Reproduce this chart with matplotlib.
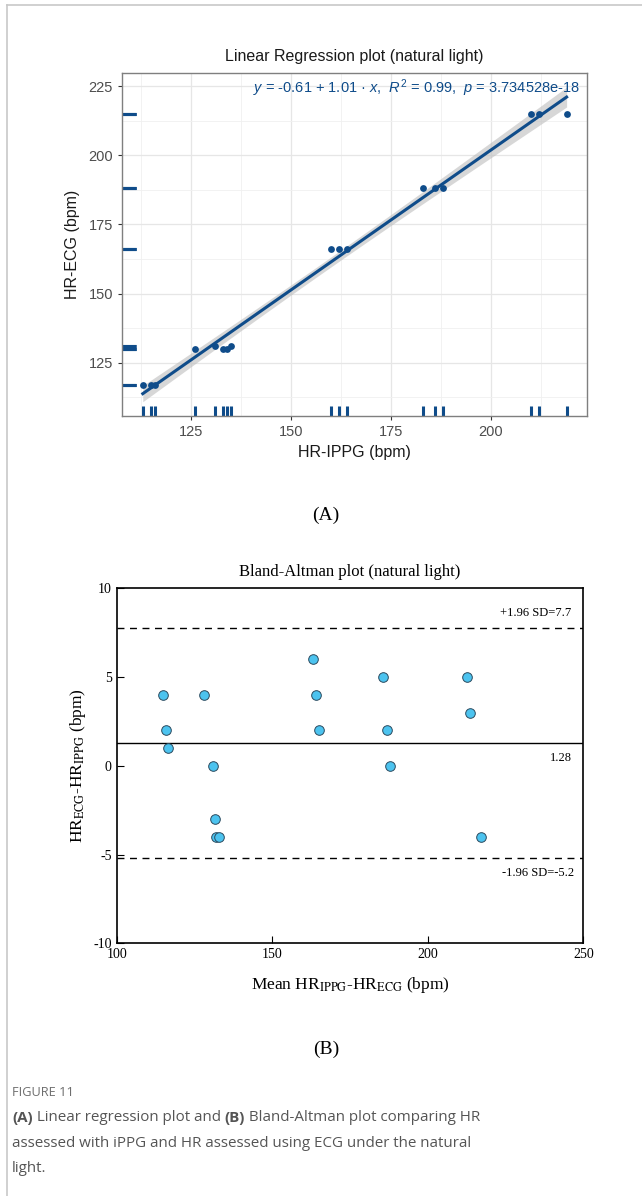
import numpy as np
import matplotlib
matplotlib.use("Agg")
from matplotlib import pyplot as plt

plt.rcParams['mathtext.fontset'] = 'custom'
plt.rcParams['mathtext.rm'] = 'Liberation Sans'
plt.rcParams['mathtext.it'] = 'Liberation Sans:italic'
plt.rcParams['axes.unicode_minus'] = False

# data
hr_ippg = [113, 115, 116, 126, 131, 133, 134, 135, 160, 162, 164, 183, 186, 188, 210, 212, 219]
hr_ecg = [117, 117, 117, 130, 131, 130, 130, 131, 166, 166, 166, 188, 188, 188, 215, 215, 215]
eq_text = r"$y$ = -0.61 + 1.01 · $x$,  $R^2$ = 0.99,  $p$ = 3.734528e-18"

ba_mean = [115, 116, 116.5, 128, 131, 131.5, 132, 133, 163, 164, 165, 185.5, 187, 188, 212.5, 213.5, 217]
ba_diff = [4, 2, 1, 4, 0, -3, -4, -4, 6, 4, 2, 5, 2, 0, 5, 3, -4]
bias = 1.28
loa_upper = 7.75
loa_lower = -5.2
upper_label = "+1.96 SD=7.7"
lower_label = "-1.96 SD=-5.2"
bias_label = "1.28"

blue = '#0f4c8a'

fig = plt.figure(figsize=(6.42, 11.96), dpi=100)

# page frame + captions (pixel coordinates)
bg = fig.add_axes([0, 0, 1, 1])
bg.set_xlim(0, 642)
bg.set_ylim(1196, 0)
bg.axis('off')
bg.plot([7, 642], [5, 5], color='#c8c8c8', lw=1.2)
bg.plot([7, 7], [5, 1196], color='#c8c8c8', lw=1.2)

# ---------- (A) linear regression ----------
ax1 = fig.add_axes([122/642, 1-416/1196, 465/642, 343/1196])
x = np.array(hr_ippg, float)
y = np.array(hr_ecg, float)
b1, b0 = np.polyfit(x, y, 1)
xs = np.linspace(x.min(), x.max(), 100)
fit = b0 + b1*xs
n = len(x)
resid = y - (b0 + b1*x)
s = np.sqrt(np.sum(resid**2)/(n-2))
se = s*np.sqrt(1/n + (xs-x.mean())**2/np.sum((x-x.mean())**2))
t = 2.131
ax1.fill_between(xs, fit-t*se, fit+t*se, color='#bdbdbd', alpha=0.6, lw=0, zorder=2)
ax1.plot(xs, fit, color=blue, lw=2.2, zorder=3)
ax1.scatter(x, y, s=24, color=blue, zorder=4, lw=0)
ax1.vlines(x, 0, 0.03, transform=ax1.get_xaxis_transform(), color=blue, lw=2.2)
ax1.hlines(y, 0, 0.03, transform=ax1.get_yaxis_transform(), color=blue, lw=2.2)

ax1.set_xlim(107.8, 224.1)
ax1.set_ylim(105.8, 229.7)
ax1.set_xticks([125, 150, 175, 200])
ax1.set_yticks([125, 150, 175, 200, 225])
ax1.set_xticks([112.5, 137.5, 162.5, 187.5, 212.5], minor=True)
ax1.set_yticks([112.5, 137.5, 162.5, 187.5, 212.5], minor=True)
ax1.grid(True, which='major', color='#e6e6e6', lw=0.9)
ax1.grid(True, which='minor', color='#f0f0f0', lw=0.6)
ax1.set_axisbelow(True)
for sp in ax1.spines.values():
    sp.set_color('#7f7f7f')
    sp.set_linewidth(1.0)
ax1.tick_params(which='major', length=3, color='#333333', labelcolor='#4d4d4d',
                labelsize=10.5, width=0.8)
ax1.tick_params(which='minor', length=0)
for lab in ax1.get_xticklabels() + ax1.get_yticklabels():
    lab.set_family('Liberation Sans')
ax1.set_xlabel('HR-IPPG (bpm)', family='Liberation Sans', fontsize=11.5, color='#1a1a1a', labelpad=4)
ax1.set_ylabel('HR-ECG (bpm)', family='Liberation Sans', fontsize=11.5, color='#1a1a1a', labelpad=6)
ax1.set_title('Linear Regression plot (natural light)', family='Liberation Sans', fontsize=11.5,
              color='#1a1a1a', pad=9)
ax1.text(0.985, 0.955, eq_text, transform=ax1.transAxes, ha='right', va='center',
         family='Liberation Sans', fontsize=10.5, color=blue)

bg.text(326, 515, '(A)', family='Liberation Serif', fontsize=14, ha='center', va='center')

# ---------- (B) Bland-Altman ----------
ax2 = fig.add_axes([116.7/642, 1-943.3/1196, 466.6/642, 355/1196])
ax2.scatter(ba_mean, ba_diff, s=48, color='#4cc3ef', edgecolor='#2b4a5e', lw=0.7, zorder=4)
ax2.axhline(bias, color='black', lw=1.0)
ax2.axhline(loa_upper, color='black', lw=1.0, ls=(0, (5, 4)))
ax2.axhline(loa_lower, color='black', lw=1.0, ls=(0, (5, 4)))
ax2.set_xlim(100, 250)
ax2.set_ylim(-10, 10)
ax2.set_xticks([100, 150, 200, 250])
ax2.set_yticks([-10, -5, 0, 5, 10])
ax2.tick_params(direction='in', length=5, width=0.8, labelsize=10)
for lab in ax2.get_xticklabels() + ax2.get_yticklabels():
    lab.set_family('Liberation Serif')
for sp in ax2.spines.values():
    sp.set_linewidth(1.2)
ax2.text(0.975, loa_upper + 0.5, upper_label, transform=ax2.get_yaxis_transform(),
         ha='right', va='bottom', family='Liberation Serif', fontsize=9)
ax2.text(0.975, bias - 0.5, bias_label, transform=ax2.get_yaxis_transform(),
         ha='right', va='top', family='Liberation Serif', fontsize=9)
ax2.text(0.98, loa_lower - 0.5, lower_label, transform=ax2.get_yaxis_transform(),
         ha='right', va='top', family='Liberation Serif', fontsize=9)
ax2.set_title('Bland-Altman plot (natural light)', family='Liberation Serif', fontsize=12, pad=9)
ax2.set_xlabel(r'Mean HR$_{\mathrm{IPPG}}$-HR$_{\mathrm{ECG}}$ (bpm)', family='Liberation Serif',
               fontsize=12.5, math_fontfamily='stix', labelpad=10)
ax2.set_ylabel(r'HR$_{\mathrm{ECG}}$-HR$_{\mathrm{IPPG}}$ (bpm)', family='Liberation Serif',
               fontsize=12.5, math_fontfamily='stix', labelpad=4)

bg.text(326, 1049, '(B)', family='Liberation Serif', fontsize=14, ha='center', va='center')

# ---------- caption ----------
cap = dict(family='Open Sans', fontsize=10.9, color='#555555')
bg.text(12, 1096, 'FIGURE 11', family='Open Sans', fontsize=9.2, color='#6e6e6e', va='baseline')
t1 = bg.text(12, 1122, '(A)', fontweight='bold', va='baseline', **cap)
t2 = bg.annotate(' Linear regression plot and ', xy=(1, 0), xycoords=t1, va='bottom', **cap)
t3 = bg.annotate('(B)', xy=(1, 0), xycoords=t2, va='bottom', fontweight='bold', **cap)
bg.annotate(' Bland-Altman plot comparing HR', xy=(1, 0), xycoords=t3, va='bottom', **cap)
bg.text(12, 1147, 'assessed with iPPG and HR assessed using ECG under the natural',
        va='baseline', **cap)
bg.text(12, 1172, 'light.', va='baseline', **cap)

fig.savefig('out.png', dpi=100)
